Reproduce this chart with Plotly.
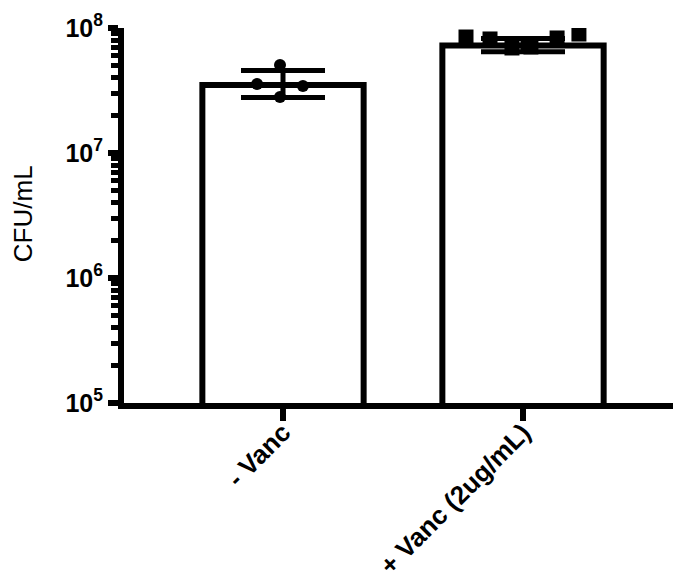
import plotly.graph_objects as go

# ---- data ----
categories = ["- Vanc", "+ Vanc (2ug/mL)"]
bar_means = [3.5e7, 7.25e7]
err_plus = [1.07e7, 1.0e7]
err_minus = [0.72e7, 0.8e7]
points_no_vanc = [3.56e7, 5.06e7, 3.44e7, 2.81e7]
points_vanc = [8.47e7, 8.17e7, 6.92e7, 7.05e7, 8.32e7, 8.95e7]
decades = [5, 6, 7, 8]
decade_labels = ["10<sup>5</sup>", "10<sup>6</sup>", "10<sup>7</sup>", "10<sup>8</sup>"]
minor_digits = [2, 3, 4, 5, 6, 7, 8, 9]

# ---- horizontal spread of the scatter points (style, in category units) ----
spread_no_vanc = [-0.108, -0.0125, 0.083, -0.0125]
spread_vanc = [-0.2375, -0.1375, -0.046, 0.033, 0.142, 0.233]

cat_pos = list(range(len(categories)))
minor_vals = [d * 10 ** e for e in decades[:-1] for d in minor_digits]
FONT = "Liberation Sans, Arial, sans-serif"

fig = go.Figure()
fig.add_trace(go.Bar(
    x=cat_pos, y=bar_means, width=0.672,
    marker=dict(color="white", line=dict(color="black", width=6)),
    error_y=dict(type="data", array=err_plus, arrayminus=err_minus,
                 color="black", thickness=5, width=42),
    showlegend=False,
))
fig.add_trace(go.Scatter(
    x=[cat_pos[0] + d for d in spread_no_vanc], y=points_no_vanc,
    mode="markers", marker=dict(symbol="circle", size=12, color="black"),
    showlegend=False,
))
fig.add_trace(go.Scatter(
    x=[cat_pos[1] + d for d in spread_vanc], y=points_vanc,
    mode="markers", marker=dict(symbol="square", size=15, color="black"),
    showlegend=False,
))
# invisible trace on the helper axis that carries the minor ticks
fig.add_trace(go.Scatter(x=[cat_pos[0]], y=[bar_means[0]], yaxis="y2",
                         mode="markers", marker=dict(opacity=0),
                         showlegend=False, hoverinfo="skip"))

fig.update_layout(
    width=673, height=579,
    margin=dict(l=116, r=0, t=20, b=184),
    paper_bgcolor="white", plot_bgcolor="white",
    xaxis=dict(
        range=[-0.6625, 1.6583], tickvals=cat_pos, ticktext=categories,
        showline=True, linecolor="black", linewidth=6,
        ticks="outside", ticklen=12, tickwidth=6, tickcolor="black",
        tickangle=-45, ticklabelstandoff=-14,
        showgrid=False, zeroline=False, automargin=False,
        tickfont=dict(family=FONT, size=26, color="black", weight="bold"),
    ),
    yaxis=dict(
        type="log", range=[5, 8], tickvals=[10 ** e for e in decades],
        ticktext=decade_labels,
        showline=True, linecolor="black", linewidth=6,
        ticks="outside", ticklen=10, tickwidth=6, tickcolor="black",
        showgrid=False, zeroline=False, automargin=False,
        tickfont=dict(family=FONT, size=25, color="black", weight="bold"),
    ),
    yaxis2=dict(
        type="log", range=[5, 8], overlaying="y", side="left", anchor="x",
        tickvals=minor_vals, showticklabels=False,
        showline=True, linecolor="black", linewidth=6,
        ticks="outside", ticklen=7, tickwidth=5, tickcolor="black",
        showgrid=False, zeroline=False, automargin=False,
    ),
    annotations=[dict(
        text="CFU/mL", textangle=-90, xref="paper", yref="paper",
        x=-0.181, y=0.504, showarrow=False, xanchor="center", yanchor="middle",
        font=dict(family=FONT, size=26, color="black"),
    )],
)

fig.write_html("out.html")
